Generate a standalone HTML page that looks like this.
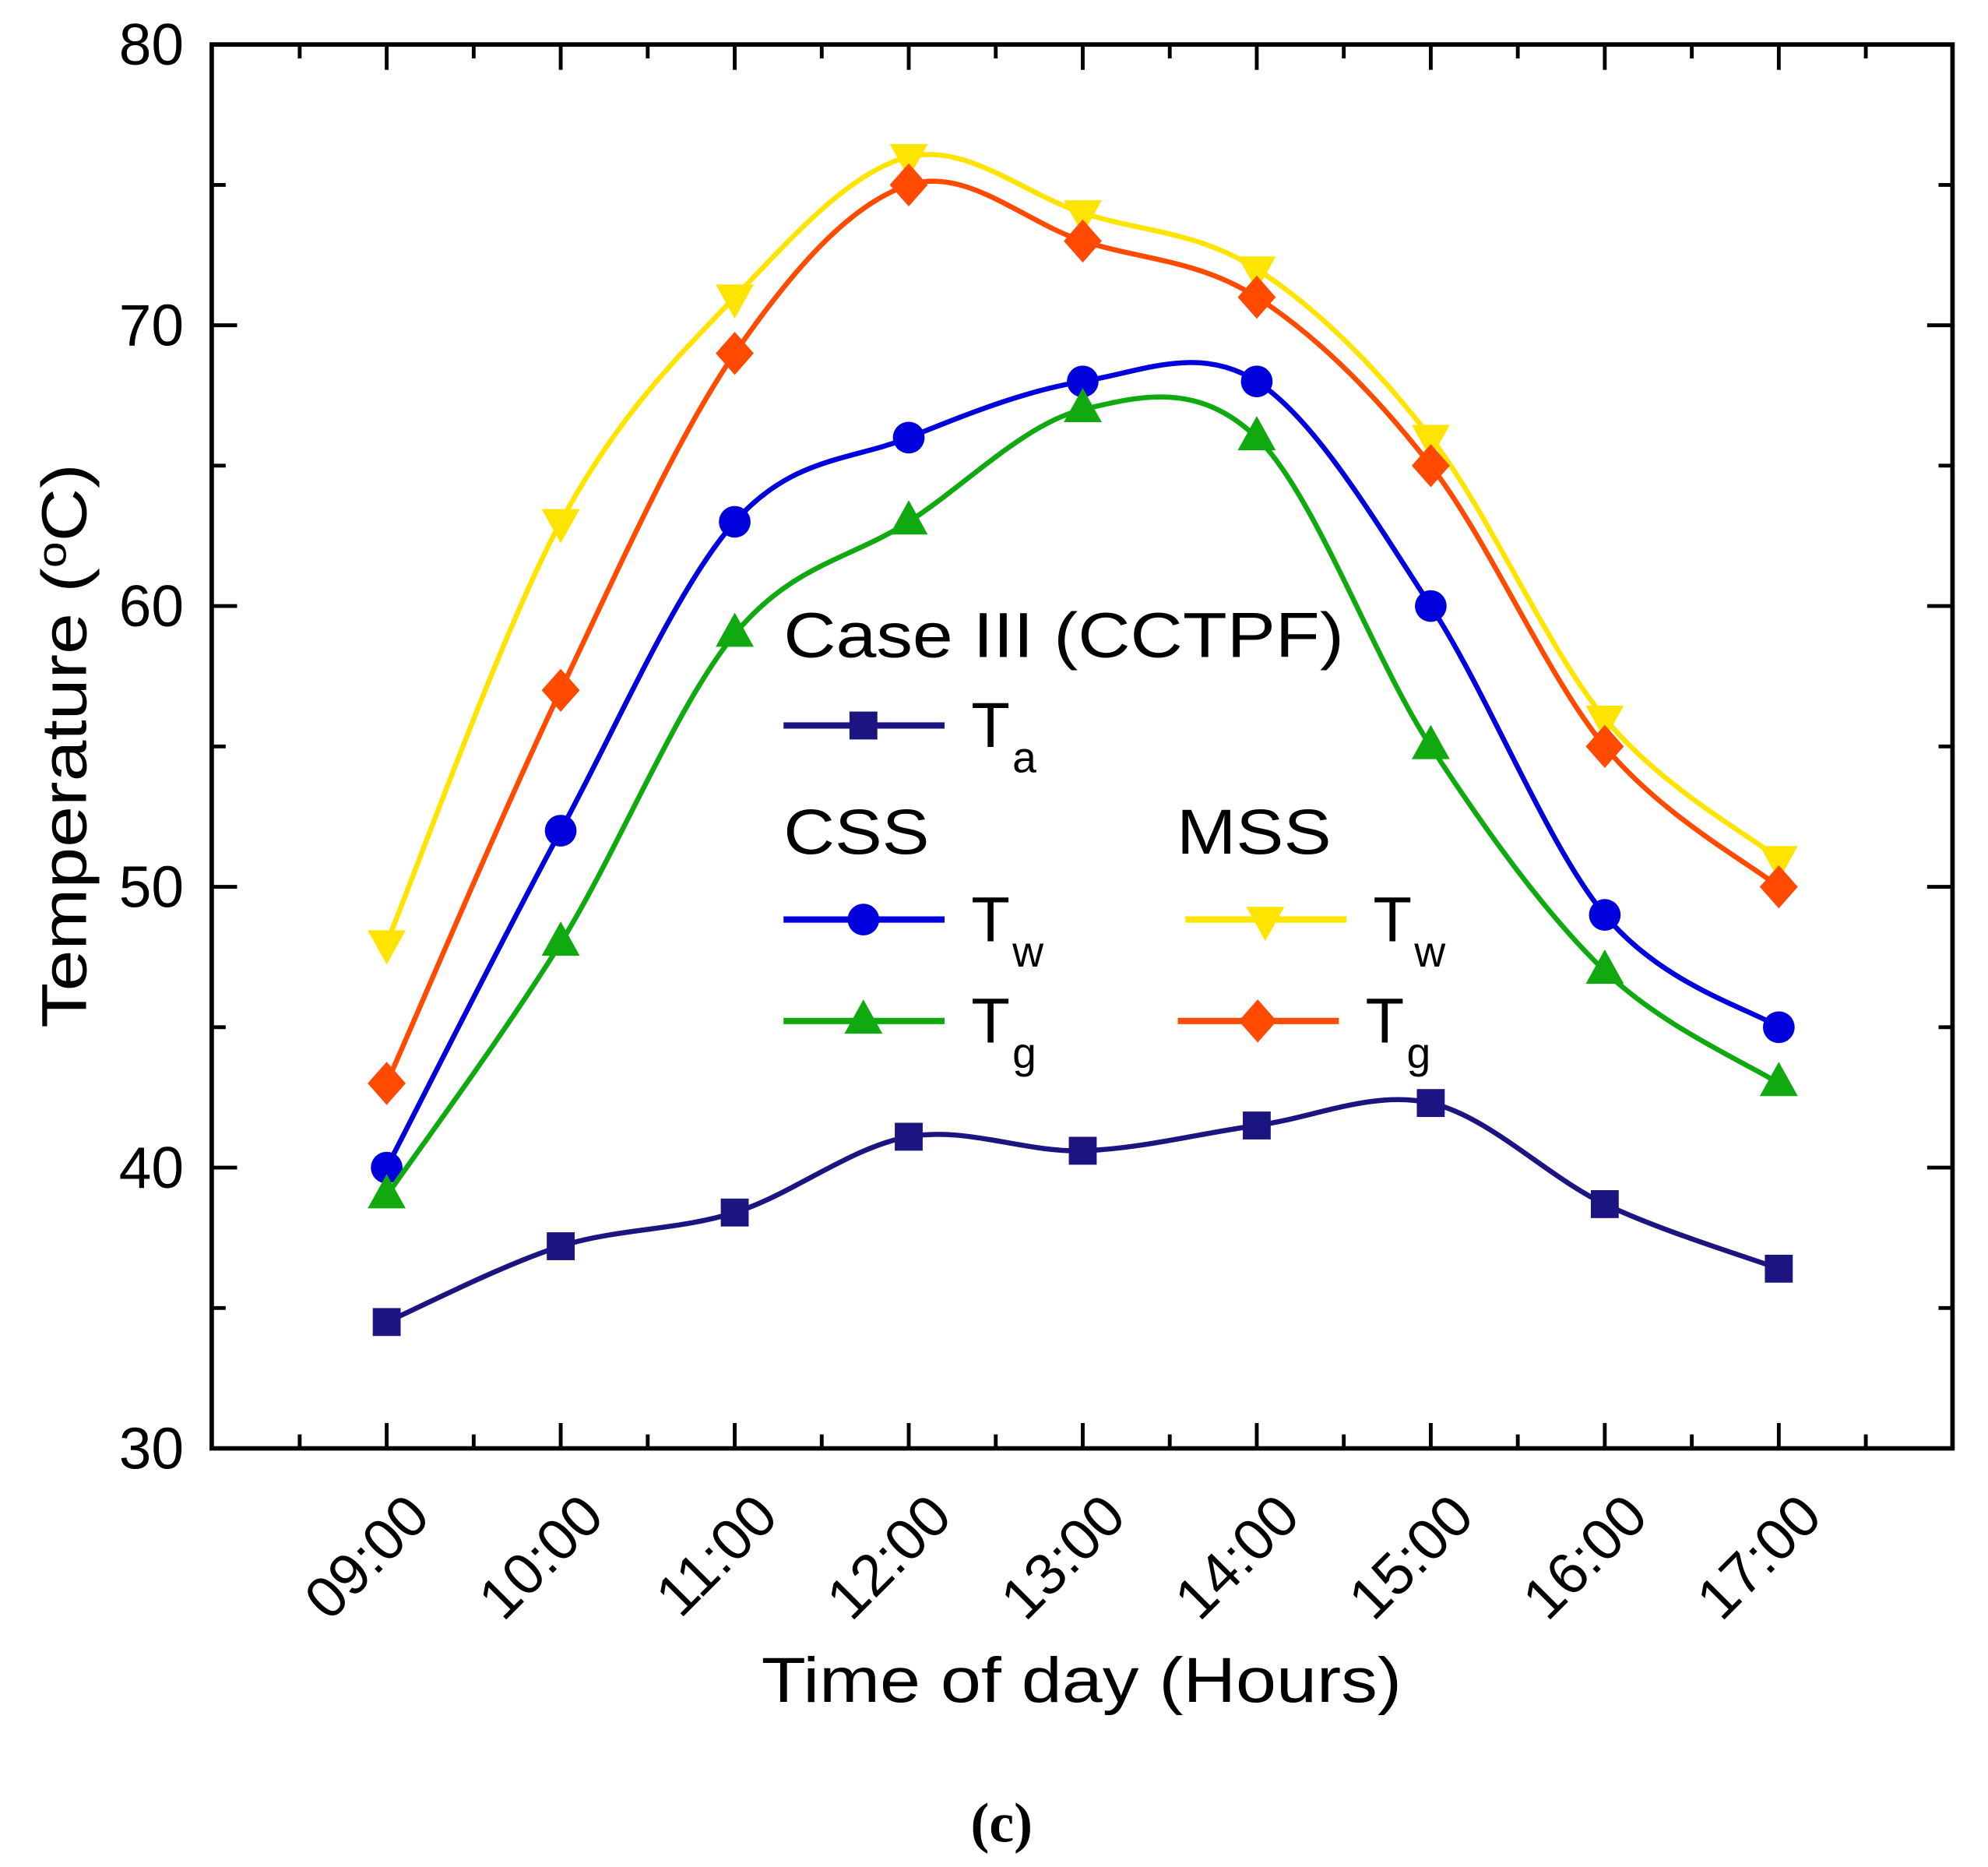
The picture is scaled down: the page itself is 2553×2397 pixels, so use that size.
<!DOCTYPE html>
<html><head><meta charset="utf-8"><style>
html,body{margin:0;padding:0;background:#fff;}
svg{display:block;}
text{font-family:"Liberation Sans",Arial,sans-serif;fill:#000;}
</style></head><body>
<svg id="chart" width="2553" height="2397" viewBox="0 0 1568 1472" xmlns="http://www.w3.org/2000/svg">
<g id="axes"></g>
<g id="series"></g>
<g id="legend">
  <text x="618" y="518" font-size="50" textLength="442" lengthAdjust="spacingAndGlyphs">Case III (CCTPF)</text>
  <text x="618" y="673" font-size="50" textLength="115" lengthAdjust="spacingAndGlyphs">CSS</text>
  <text x="928" y="673" font-size="50" textLength="122" lengthAdjust="spacingAndGlyphs">MSS</text>
</g>
<text x="853" y="1342" font-size="50" text-anchor="middle" textLength="505" lengthAdjust="spacingAndGlyphs">Time of day (Hours)</text>
<text transform="translate(68,588) rotate(-90)" font-size="50" text-anchor="middle" textLength="445" lengthAdjust="spacingAndGlyphs">Temperature (<tspan font-size="32" dy="-16">o</tspan><tspan dy="16">C)</tspan></text>
<text x="790" y="1452" font-size="44" font-weight="bold" text-anchor="middle" style="font-family:'Liberation Serif',serif">(c)</text>
</svg>
<script>
const categories = ["09:00","10:00","11:00","12:00","13:00","14:00","15:00","16:00","17:00"];
const yTicks = [30,40,50,60,70,80];
const ta = [34.5,37.2,38.4,41.1,40.6,41.5,42.3,38.7,36.4];
const cssTw = [40,52,63,66,68,68,60,49,45];
const cssTg = [39,48,59,63,67,66,55,47,43];
const mssTw = [48,63,71,76,74,72,66,56,51];
const mssTg = [43,57,69,75,73,71,65,55,50];

const NS = "http://www.w3.org/2000/svg";
const L = 167, R = 1540, T = 35, B = 1142;
const yMin = 30, yMax = 80;
const x0 = 305, dx = 137.25;
function xs(i){ return x0 + i*dx; }
function ys(v){ return B - (v - yMin)/(yMax - yMin)*(B - T); }
function mk(tag, attrs, parent){
  const e = document.createElementNS(NS, tag);
  for (const k in attrs) e.setAttribute(k, attrs[k]);
  parent.appendChild(e);
  return e;
}
const axes = document.getElementById('axes');
const frame = mk('rect', {x:L, y:T, width:R-L, height:B-T, fill:'none', stroke:'#000', 'stroke-width':3.5}, axes);


for (let v = yMin; v <= yMax; v += 5) {
  const y = ys(v), major = (v % 10 === 0), len = major ? 20 : 11;
  const t1 = mk('line', {x1:L, x2:L+len, y1:y, y2:y, stroke:'#000', 'stroke-width':3}, axes);
  
  
  const t2 = mk('line', {x1:R, x2:R-len, y1:y, y2:y, stroke:'#000', 'stroke-width':3}, axes);
  
  
}
yTicks.forEach(v => {
  const t = mk('text', {x:L-22, y:ys(v)+16, 'font-size':46, 'text-anchor':'end'}, axes);
  
  
  t.textContent = v;
});
for (let k = -1; k <= 2*categories.length - 1; k++) {
  const x = x0 + k*dx/2;
  if (x <= L || x >= R) continue;
  const len = (k % 2 === 0) ? 20 : 11;
  const a = mk('line', {x1:x, x2:x, y1:B, y2:B-len, stroke:'#000', 'stroke-width':3}, axes);
  
  
  const b = mk('line', {x1:x, x2:x, y1:T, y2:T+len, stroke:'#000', 'stroke-width':3}, axes);
  
  
}
categories.forEach((c, i) => {
  const t = mk('text', {transform:`translate(${xs(i)+36},${B+56}) rotate(-45)`, 'font-size':46, 'text-anchor':'end'}, axes);
  
  
  t.textContent = c;
});

function smoothPath(vals){
  const p = vals.map((v,i)=>[xs(i), ys(v)]);
  let d = `M${p[0][0]},${p[0][1]}`;
  for (let i = 0; i < p.length-1; i++){
    const a = p[Math.max(i-1,0)], b = p[i], c = p[i+1], e = p[Math.min(i+2,p.length-1)];
    const c1 = [b[0]+(c[0]-a[0])/6, b[1]+(c[1]-a[1])/6];
    const c2 = [c[0]-(e[0]-b[0])/6, c[1]-(e[1]-b[1])/6];
    d += ` C${c1[0]},${c1[1]} ${c2[0]},${c2[1]} ${c[0]},${c[1]}`;
  }
  return d;
}
function marker(shape, x, y, color, parent){
  let e;
  if (shape === 'square') e = mk('rect', {x:x-11, y:y-11, width:22, height:22, fill:color}, parent);
  else if (shape === 'circle') e = mk('circle', {cx:x, cy:y, r:12.5, fill:color}, parent);
  else if (shape === 'up') e = mk('polygon', {points:`${x},${y-17} ${x+15},${y+10} ${x-15},${y+10}`, fill:color}, parent);
  else if (shape === 'down') e = mk('polygon', {points:`${x},${y+17} ${x+15},${y-10} ${x-15},${y-10}`, fill:color}, parent);
  else e = mk('polygon', {points:`${x},${y-17} ${x+15},${y} ${x},${y+17} ${x-15},${y}`, fill:color}, parent);
  return e;
}
const seriesDefs = [
  {vals:mssTw, color:'#ffe400', shape:'down', name:'mss-tw'},
  {vals:mssTg, color:'#ff4a00', shape:'diamond', name:'mss-tg'},
  {vals:cssTw, color:'#0000dd', shape:'circle', name:'css-tw'},
  {vals:cssTg, color:'#10aa10', shape:'up', name:'css-tg'},
  {vals:ta, color:'#1c1480', shape:'square', name:'ta'}
];
const sg = document.getElementById('series');
seriesDefs.forEach(s => {
  const g = mk('g', {}, sg);
  
  
  const p = mk('path', {d:smoothPath(s.vals), fill:'none', stroke:s.color, 'stroke-width':4}, g);
  
  
  s.vals.forEach((v,i) => {
    const m = marker(s.shape, xs(i), ys(v), s.color, g);
    
    
  });
});
const lg = document.getElementById('legend');
const entries = [
  {x:618, y:572, color:'#1c1480', shape:'square', sub:'a', name:'ta'},
  {x:618, y:725, color:'#0000dd', shape:'circle', sub:'w', name:'css-tw'},
  {x:618, y:805, color:'#10aa10', shape:'up', sub:'g', name:'css-tg'},
  {x:935, y:725, color:'#ffe400', shape:'down', sub:'w', name:'mss-tw'},
  {x:929, y:805, color:'#ff4a00', shape:'diamond', sub:'g', name:'mss-tg'}
];
entries.forEach(en => {
  const g = mk('g', {}, lg);
  
  
  mk('line', {x1:en.x, x2:en.x+127, y1:en.y, y2:en.y, stroke:en.color, 'stroke-width':5}, g);
  marker(en.shape, en.x+63, en.y, en.color, g);
  const t = mk('text', {x:en.x+148, y:en.y+17, 'font-size':50}, g);
  t.textContent = 'T';
  const s = mk('tspan', {'font-size':34, dy:20, dx:2}, t);
  s.textContent = en.sub;
});
</script>
</body></html>
